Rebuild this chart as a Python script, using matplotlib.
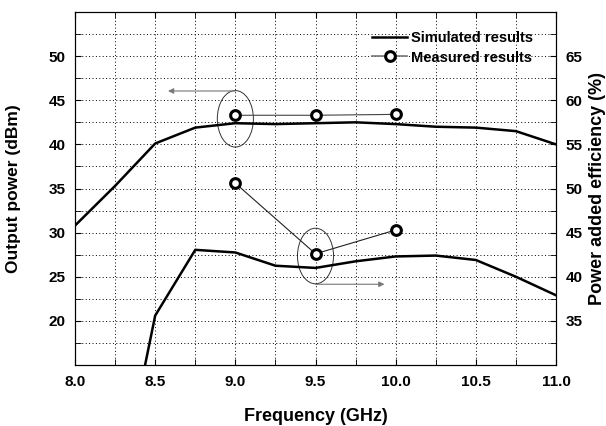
import numpy as np
import matplotlib
matplotlib.use("Agg")
import matplotlib.pyplot as plt
from matplotlib.patches import Ellipse
from matplotlib.lines import Line2D

plt.rcParams['font.family'] = ['Liberation Sans', 'DejaVu Sans']
plt.rcParams['font.weight'] = 'bold'

# simulated output power (dBm), left axis
f_pout = [8.0, 8.25, 8.5, 8.75, 9.0, 9.25, 9.5, 9.75, 10.0, 10.25, 10.5, 10.75, 11.0]
pout_sim = [30.8, 35.3, 40.1, 41.9, 42.4, 42.3, 42.4, 42.5, 42.3, 42.0, 41.9, 41.5, 40.0]

# simulated PAE (%), right axis
f_pae = [8.25, 8.5, 8.75, 9.0, 9.25, 9.5, 9.75, 10.0, 10.25, 10.5, 10.75, 11.0]
pae_sim = [13.4, 35.6, 43.05, 42.75, 41.25, 41.0, 41.75, 42.3, 42.4, 41.9, 40.0, 37.9]

# measured
f_meas = [9.0, 9.5, 10.0]
pout_meas = [43.3, 43.3, 43.4]
pae_meas = [50.6, 42.6, 45.3]

fig = plt.figure(figsize=(6.06, 4.26), dpi=100)
ax = fig.add_axes([0.1238, 0.1432, 0.7937, 0.8286])
ax2 = ax.twinx()

ax.set_xlim(8.0, 11.0)
ax.set_ylim(15, 55)
ax2.set_ylim(30, 70)

ax.set_xticks(np.arange(8.0, 11.01, 0.5))
ax.set_xticks(np.arange(8.0, 11.01, 0.25), minor=True)
ax.set_yticks(np.arange(20, 51, 5))
ax.set_yticks(np.arange(15, 55.1, 2.5), minor=True)
ax2.set_yticks(np.arange(35, 66, 5))
ax2.set_yticks(np.arange(30, 70.1, 2.5), minor=True)
ax.set_xticklabels(['%.1f' % v for v in np.arange(8.0, 11.01, 0.5)])

ax.grid(True, which='both', linestyle=(0, (1, 2.5)), color='black', linewidth=0.7)
ax.tick_params(which='both', direction='in', length=4, top=True, labelsize=11, pad=7)
ax2.tick_params(which='both', direction='in', length=4, labelsize=11, pad=7)
for t in ax.get_xticklabels() + ax.get_yticklabels() + ax2.get_yticklabels():
    t.set_fontweight('bold')

ax.set_xlabel('Frequency (GHz)', fontsize=13, fontweight='bold', labelpad=14)
ax.set_ylabel('Output power (dBm)', fontsize=12.5, fontweight='bold')
ax.yaxis.set_label_coords(-0.113, 0.5)
ax2.set_ylabel('Power added efficiency (%)', fontsize=13, fontweight='bold', rotation=90)
ax2.yaxis.set_label_coords(1.068, 0.5)

# simulated curves
ax.plot(f_pout, pout_sim, color='black', linewidth=1.8)
ax2.plot(f_pae, pae_sim, color='black', linewidth=1.8)

# measured points
ax.plot(f_meas, pout_meas, color='#444444', linewidth=0.8, marker='o',
        markersize=7, markerfacecolor='white', markeredgecolor='black', markeredgewidth=2.2)
ax2.plot(f_meas, pae_meas, color='#222222', linewidth=0.8, marker='o',
         markersize=7, markerfacecolor='white', markeredgecolor='black', markeredgewidth=2.2)

# ellipses and arrows
ax.add_patch(Ellipse((9.0, 42.9), 0.225, 6.4, fill=False, edgecolor='#333333', linewidth=0.7))
ax.annotate('', xy=(8.58, 46.05), xytext=(9.0, 46.05),
            arrowprops=dict(arrowstyle='-|>', color='#777777', lw=0.8,
                            mutation_scale=8, shrinkA=0, shrinkB=0))
ax.add_patch(Ellipse((9.5, 27.35), 0.225, 6.3, fill=False, edgecolor='#333333', linewidth=0.7))
ax.annotate('', xy=(9.93, 24.15), xytext=(9.5, 24.15),
            arrowprops=dict(arrowstyle='-|>', color='#777777', lw=0.8,
                            mutation_scale=8, shrinkA=0, shrinkB=0))

handles = [Line2D([], [], color='black', linewidth=1.8),
           Line2D([], [], color='#777777', linewidth=1.2, marker='o', markersize=7,
                  markerfacecolor='white', markeredgecolor='black', markeredgewidth=2.2)]
ax.legend(handles, ['Simulated results', 'Measured results'], loc='upper right',
          bbox_to_anchor=(0.952, 0.945), frameon=False, borderpad=0, borderaxespad=0,
          handlelength=2.4, handletextpad=0.25, labelspacing=0.35,
          prop={'weight': 'bold', 'size': 10.5})

fig.savefig('out.png', dpi=100)
